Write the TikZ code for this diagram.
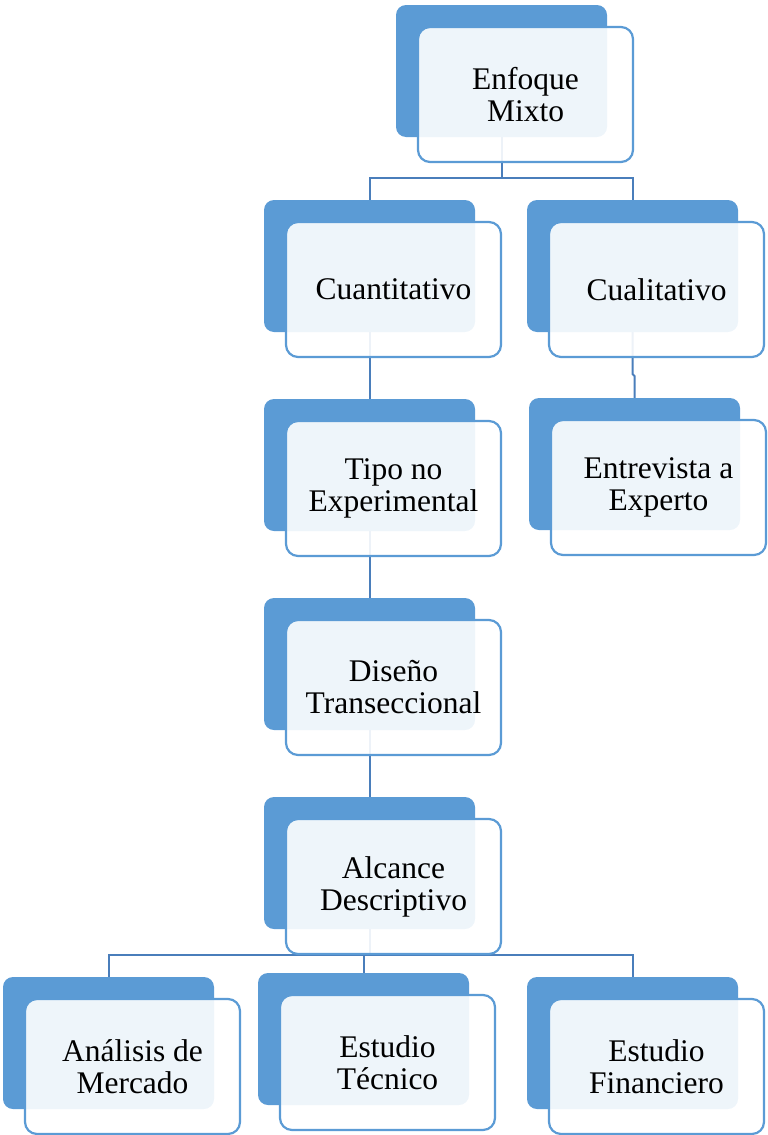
\documentclass[tikz,border=0pt]{standalone}
\usepackage{fontspec}
\setmainfont{Liberation Serif}
\usetikzlibrary{backgrounds}
\definecolor{bk}{HTML}{5B9BD5}
\definecolor{ln}{HTML}{4A7EBB}
\tikzset{
 backbox/.style={fill=bk, draw=none, rounded corners=10pt, minimum width=211pt, minimum height=132pt, anchor=north west, inner sep=0pt, outer sep=0pt},
 frontbox/.style={fill=white, fill opacity=0.9, text opacity=1, draw=bk, line width=2.2pt, rounded corners=12pt, minimum width=215pt, minimum height=135pt, anchor=north west, align=center, font=\fontsize{31.5}{32}\selectfont, inner sep=0pt, outer sep=0pt},
 conn/.style={draw=ln, line width=2pt}
}
\newcommand\duobox[4]{%
 \node[backbox] (#1b) at (#2,#3) {};
 \node[frontbox] (#1) at (#2+22,#3+22) {#4};
}
\begin{document}
\begin{tikzpicture}[x=1pt,y=-1pt]
\useasboundingbox (0,0) rectangle (768,1135);
\duobox{enf}{396}{5}{Enfoque\\Mixto}
\duobox{cuan}{264}{200}{Cuantitativo}
\duobox{cual}{527}{200}{Cualitativo}
\duobox{tipo}{264}{399}{Tipo no\\Experimental}
\duobox{entr}{529}{398}{Entrevista a\\Experto}
\duobox{dis}{264}{598}{Diseño\\Transeccional}
\duobox{alc}{264}{797}{Alcance\\Descriptivo}
\duobox{ana}{3}{977}{Análisis de\\Mercado}
\duobox{tec}{258}{973}{Estudio\\Técnico}
\duobox{fin}{527}{977}{Estudio\\Financiero}
\coordinate (j1) at (0,178);
\coordinate (j2) at (0,955);
\begin{pgfonlayer}{background}
\draw[conn] (enfb.south) -- (enfb.south |- j1) -| (cuanb.north);
\draw[conn] (enfb.south |- j1) -| (cualb.north);
\draw[conn] (cuanb.south) -- (tipob.north);
\draw[conn] (cualb.south) -- ++(0,42) -- ++(2,2) -| (entrb.north);
\draw[conn] (tipob.south) -- (disb.north);
\draw[conn] (disb.south) -- (alcb.north);
\draw[conn] (alcb.south) -- (alcb.south |- j2) -| (anab.north);
\draw[conn] (alcb.south |- j2) -| (tecb.north);
\draw[conn] (alcb.south |- j2) -| (finb.north);
\end{pgfonlayer}
\end{tikzpicture}
\end{document}
